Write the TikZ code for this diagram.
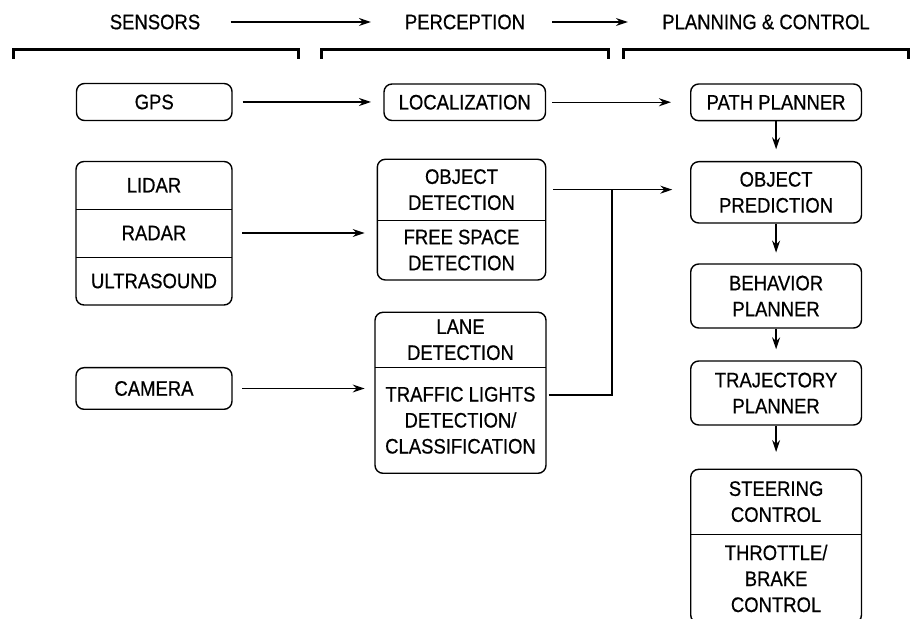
\documentclass[tikz,border=0pt]{standalone}
\usepackage{fontspec}
\setmainfont{Liberation Sans}[FakeStretch=0.88,FakeBold=0.6]
\usetikzlibrary{positioning}
\usetikzlibrary{arrows.meta}
\tikzset{>={Stealth[length=6pt,width=4pt]}}
\tikzset{blk/.style={draw,line width=0.7pt,rounded corners=4pt}}
\tikzset{txt/.style={align=center,font=\fontsize{10.5}{13}\selectfont,inner sep=0pt}}
\tikzset{lnk/.style={line width=0.65pt}}
\tikzset{brk/.style={line width=1.5pt}}

\begin{document}
\begin{tikzpicture}[x=0.5pt,y=-0.5pt]
\useasboundingbox (0,0) rectangle (911,619);
% header
\node[txt] (hsens) at (155,22) {SENSORS};
\node[txt] (hperc) at (465,22) {PERCEPTION};
\node[txt] (hplan) at (766,22) {PLANNING \& CONTROL};
\draw[lnk,->,shorten <=15pt,shorten >=16.8pt] (hsens.east) -- (hperc.west);
\draw[lnk,->,shorten <=13.3pt,shorten >=17pt] (hperc.east) -- (hplan.west);
\foreach \a/\b in {13.3/298.3, 321.7/608.3, 623.3/908.3}
  \draw[brk] (\a,59) |- (\b,50) -- (\b,59);
% sensors
\node[blk,txt,minimum width=77.75pt,minimum height=18.5pt] (gps) at (154.25,102) {GPS};
\node[blk,minimum width=78pt,minimum height=71.75pt] (sens) at (154,233.25) {};
\node[txt,minimum width=78pt,minimum height=23.75pt] (lidar) at (154,185.25) {LIDAR};
\node[txt,minimum width=78pt,minimum height=24pt] (radar) at (154,233) {RADAR};
\node[txt,minimum width=78pt,minimum height=24pt] (ultra) at (154,281) {ULTRASOUND};
\draw[line width=0.7pt] (lidar.south west) -- (lidar.south east);
\draw[line width=0.7pt] (radar.south west) -- (radar.south east);
\node[blk,txt,minimum width=78pt,minimum height=20.8pt] (camera) at (154,388.5) {CAMERA};
% perception
\node[blk,txt,minimum width=80.75pt,minimum height=18.25pt] (loc) at (464.75,102.25) {LOCALIZATION};
\node[blk,minimum width=84.2pt,minimum height=60.35pt] (det) at (461.5,219.65) {};
\node[txt,minimum width=84.2pt,minimum height=30.35pt] (od) at (461.5,189.65) {OBJECT\\DETECTION};
\node[txt,minimum width=84.2pt,minimum height=30pt] (fsd) at (461.5,250) {FREE SPACE\\DETECTION};
\draw[line width=0.7pt] (od.south west) -- (od.south east);
\node[blk,minimum width=85.5pt,minimum height=80.5pt] (lanebox) at (460.5,392.8) {};
\node[txt,minimum width=85.5pt,minimum height=27.5pt] (lane) at (460.5,339.8) {LANE\\DETECTION};
\node[txt,minimum width=85.5pt,minimum height=53pt] (tl) at (460.5,420.3) {TRAFFIC LIGHTS\\DETECTION/\\CLASSIFICATION};
\draw[line width=0.7pt] (lane.south west) -- (lane.south east);
% planning and control
\node[blk,txt,minimum width=85.4pt,minimum height=18.35pt] (path) at (776.1,102.35) {PATH PLANNER};
\node[blk,txt,minimum width=85.4pt,minimum height=30.65pt] (pred) at (776.1,192.35) {OBJECT\\PREDICTION};
\node[blk,txt,minimum width=85.4pt,minimum height=32pt] (behav) at (776.1,296) {BEHAVIOR\\PLANNER};
\node[blk,txt,minimum width=85.4pt,minimum height=32pt] (traj) at (776.1,393) {TRAJECTORY\\PLANNER};
\node[blk,minimum width=85.4pt,minimum height=76.85pt] (ctrl) at (776.1,546.15) {};
\node[txt,minimum width=85.4pt,minimum height=32.35pt] (steer) at (776.1,501.65) {STEERING\\CONTROL};
\node[txt,minimum width=85.4pt,minimum height=44.5pt] (thr) at (776.1,578.5) {THROTTLE/\\BRAKE\\CONTROL};
\draw[line width=0.7pt] (steer.south west) -- (steer.south east);
% links
\draw[lnk,->,shorten <=5pt,shorten >=6.15pt] (gps.east) -- (gps.east -| loc.west);
\draw[lnk,->,shorten <=3pt,shorten >=9.5pt] (loc.east) -- (loc.east -| path.west);
\draw[lnk,->,shorten <=4.85pt,shorten >=6.15pt] (radar.east) -- (radar.east -| fsd.west);
\draw[lnk,->,shorten <=4.85pt,shorten >=5pt] (camera.east) -- (camera.east -| tl.west);
\draw[lnk,->,shorten <=3.5pt,shorten >=8.85pt] (od.east) -- (od.east -| pred.west);
\draw[lnk] ([xshift=1pt,yshift=-1.1pt]lanebox.east) -| ([xshift=33pt]od.east);
\draw[lnk,->,shorten >=5.85pt] (path.south) -- (pred.north);
\draw[lnk,->,shorten >=5.35pt] (pred.south) -- (behav.north);
\draw[lnk,->,shorten >=5.5pt] (behav.south) -- (traj.north);
\draw[lnk,->,shorten >=8.3pt] (traj.south) -- (ctrl.north);
\end{tikzpicture}
\end{document}
